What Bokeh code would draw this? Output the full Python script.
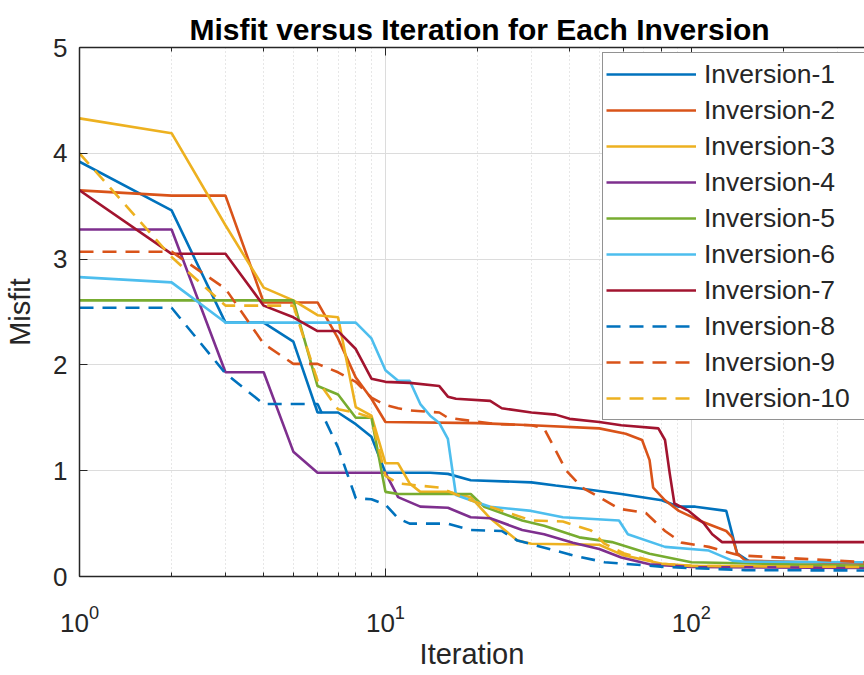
from bokeh.plotting import figure
from bokeh.models import (Range1d, LogAxis, FixedTicker, Legend, LegendItem,
                          CustomJSTickFormatter)
from bokeh.embed import file_html
from bokeh.resources import INLINE

# ---- data: misfit per iteration (vertices of each convergence curve) ----
series_names = ["Inversion-1", "Inversion-2", "Inversion-3", "Inversion-4", "Inversion-5",
                "Inversion-6", "Inversion-7", "Inversion-8", "Inversion-9", "Inversion-10"]

inv1_iter = [1, 2, 3, 4, 5, 6, 7, 8, 9, 10, 14, 16, 19, 30, 36, 44, 59, 80, 91, 103, 130, 136, 141, 155, 200, 368]
inv1_misfit = [3.92, 3.46, 2.40, 2.40, 2.22, 1.55, 1.55, 1.44, 1.32, 0.98, 0.98, 0.97, 0.91, 0.89, 0.86, 0.83,
               0.78, 0.72, 0.66, 0.66, 0.62, 0.40, 0.22, 0.14, 0.11, 0.09]

inv2_iter = [1, 2, 3, 4, 5, 6, 7, 8, 9, 10, 20, 30, 50, 61, 69, 73, 75, 82, 91, 106, 130, 136, 141, 150, 368]
inv2_misfit = [3.65, 3.60, 3.60, 2.59, 2.59, 2.59, 2.25, 1.88, 1.68, 1.46, 1.45, 1.43, 1.40, 1.35, 1.29, 1.10,
               0.84, 0.72, 0.62, 0.53, 0.43, 0.37, 0.22, 0.15, 0.12]

inv3_iter = [1, 2, 3, 4, 5, 6, 7, 8, 9, 10, 11, 12, 13, 16, 19, 22, 27, 30, 50, 60, 80, 100, 368]
inv3_misfit = [4.33, 4.19, 3.32, 2.73, 2.61, 2.47, 2.45, 1.60, 1.52, 1.07, 1.07, 0.88, 0.80, 0.80, 0.75, 0.55,
               0.34, 0.31, 0.30, 0.20, 0.12, 0.10, 0.09]

inv4_iter = [1, 2, 3, 4, 5, 6, 10, 11, 13, 16, 19, 22, 28, 33, 41, 50, 59, 73, 100, 368]
inv4_misfit = [3.28, 3.28, 1.93, 1.93, 1.18, 0.98, 0.98, 0.75, 0.66, 0.65, 0.56, 0.55, 0.44, 0.40, 0.32, 0.26,
               0.18, 0.115, 0.09, 0.08]

inv5_iter = [1, 2, 3, 4, 5, 6, 7, 8, 9, 10, 11, 14, 19, 21, 28, 33, 43, 55, 73, 100, 368]
inv5_misfit = [2.61, 2.61, 2.61, 2.61, 2.61, 1.80, 1.72, 1.50, 1.50, 0.80, 0.78, 0.78, 0.78, 0.66, 0.53, 0.48,
               0.37, 0.325, 0.215, 0.135, 0.10]

inv6_iter = [1, 2, 3, 4, 5, 6, 7, 8, 9, 10, 11, 12, 13, 14, 15, 16, 17, 19, 22, 30, 38, 58, 62, 82, 114, 136,
             150, 368]
inv6_misfit = [2.83, 2.78, 2.40, 2.40, 2.40, 2.40, 2.40, 2.40, 2.25, 1.95, 1.85, 1.85, 1.63, 1.52, 1.45, 1.30,
               0.77, 0.72, 0.66, 0.62, 0.56, 0.53, 0.40, 0.28, 0.245, 0.15, 0.14, 0.135]

inv7_iter = [1, 2, 3, 4, 5, 6, 7, 8, 9, 10, 12, 15, 16, 17, 22, 24, 30, 36, 40, 50, 59, 78, 82, 85, 88, 98, 110,
             117, 126, 368]
inv7_misfit = [3.65, 3.05, 3.05, 2.56, 2.45, 2.32, 2.32, 2.15, 1.87, 1.84, 1.83, 1.80, 1.70, 1.68, 1.66, 1.59,
               1.55, 1.53, 1.49, 1.46, 1.43, 1.40, 1.29, 0.97, 0.69, 0.62, 0.50, 0.40, 0.325, 0.325]

inv8_iter = [1, 2, 3, 4, 5, 6, 7, 8, 9, 10, 11, 12, 16, 19, 24, 27, 41, 52, 82, 150, 368]
inv8_misfit = [2.54, 2.54, 1.92, 1.63, 1.63, 1.63, 1.22, 0.74, 0.73, 0.68, 0.55, 0.50, 0.50, 0.44, 0.43, 0.34,
               0.20, 0.135, 0.09, 0.06, 0.057]

inv9_iter = [1, 2, 3, 4, 5, 6, 7, 8, 9, 10, 11, 12, 15, 16, 23, 30, 33, 39, 44, 50, 58, 71, 82, 93, 114, 143, 368]
inv9_misfit = [3.07, 3.07, 2.72, 2.20, 2.01, 2.01, 1.93, 1.84, 1.69, 1.62, 1.59, 1.57, 1.55, 1.50, 1.44, 1.43,
               1.40, 1.00, 0.84, 0.75, 0.64, 0.60, 0.43, 0.32, 0.28, 0.20, 0.135]

inv10_iter = [1, 2, 3, 4, 5, 6, 7, 8, 9, 10, 11, 15, 19, 30, 38, 47, 52, 60, 80, 100, 368]
inv10_misfit = [4.00, 3.02, 2.56, 2.56, 2.56, 1.85, 1.58, 1.55, 1.50, 0.95, 0.88, 0.84, 0.72, 0.53, 0.52, 0.435,
                0.31, 0.22, 0.12, 0.10, 0.09]

y_ticks = [0, 1, 2, 3, 4, 5]

all_iters = [inv1_iter, inv2_iter, inv3_iter, inv4_iter, inv5_iter,
             inv6_iter, inv7_iter, inv8_iter, inv9_iter, inv10_iter]
all_misfits = [inv1_misfit, inv2_misfit, inv3_misfit, inv4_misfit, inv5_misfit,
               inv6_misfit, inv7_misfit, inv8_misfit, inv9_misfit, inv10_misfit]

# ---- styling ----
FONT = "Liberation Sans"
INK = "#262626"
palette = ["#0072BD", "#D95319", "#EDB120", "#7E2F8E", "#77AC30", "#4DBEEE", "#A2142F"]
colors = [palette[i % 7] for i in range(10)]
dashes = ["solid"] * 7 + ["14 9"] * 3

p = figure(width=864, height=675, x_axis_type="log",
           x_range=Range1d(1, 368), y_range=Range1d(0, 5),
           output_backend="svg", toolbar_location=None,
           min_border_left=79, min_border_right=0, min_border_top=47, min_border_bottom=99)
p.background_fill_color = "white"
p.border_fill_color = "white"
p.outline_line_color = None

p.title.text = "Misfit versus Iteration for Each Inversion"
p.title.text_font = FONT
p.title.text_font_size = "30px"
p.title.text_font_style = "bold"
p.title.text_color = "black"
p.title.align = "left"
p.title.offset = 110
p.title.standoff = 0
p.title.vertical_align = "top"

# bottom axis
xa = p.xaxis[0]
xa.axis_label = "Iteration"
for ax in (p.xaxis[0], p.yaxis[0]):
    ax.axis_label_text_font = FONT
    ax.axis_label_text_font_size = "29px"
    ax.axis_label_text_font_style = "normal"
    ax.axis_label_text_color = INK
    ax.major_label_text_font = FONT
    ax.major_label_text_font_size = "26px"
    ax.major_label_text_color = INK
    ax.axis_line_color = INK
    ax.axis_line_width = 1.5
    ax.major_tick_line_color = INK
    ax.minor_tick_line_color = INK
    ax.major_tick_in = 8
    ax.major_tick_out = 0
    ax.minor_tick_in = 4
    ax.minor_tick_out = 0
xa.major_label_standoff = 28
xa.axis_label_standoff = 3

ya = p.yaxis[0]
ya.axis_label = "Misfit"
ya.ticker = FixedTicker(ticks=y_ticks)
ya.major_label_standoff = 12
ya.axis_label_standoff = 14

# top border with inward ticks
top = LogAxis(formatter=CustomJSTickFormatter(code="return ''"),
              axis_line_color=INK, axis_line_width=1.5,
              major_tick_line_color=INK, minor_tick_line_color=INK,
              major_tick_in=8, major_tick_out=0, minor_tick_in=4, minor_tick_out=0,
              major_label_standoff=0, major_label_text_font_size="1px")
p.add_layout(top, "above")

# grids
p.xgrid.grid_line_color = "#DCDCDC"
p.ygrid.grid_line_color = "#DCDCDC"
p.ygrid.ticker = FixedTicker(ticks=y_ticks)
p.xgrid.minor_grid_line_color = "#CFCFCF"
p.xgrid.minor_grid_line_dash = "1 3"

items = []
for name, xs, ys, c, d in zip(series_names, all_iters, all_misfits, colors, dashes):
    r = p.line(xs, ys, line_color=c, line_width=2.6, line_dash=d)
    items.append(LegendItem(label=name, renderers=[r]))

legend = Legend(items=items, location=(523, 156),
                label_text_font=FONT, label_text_font_size="26.5px", label_text_color=INK,
                glyph_width=90, glyph_height=36, label_height=36, label_width=175,
                label_standoff=8, spacing=0, padding=3, margin=0,
                border_line_color=INK, border_line_width=1.5,
                background_fill_color="white", background_fill_alpha=1.0)
p.add_layout(legend)

open("out.html", "w").write(file_html(p, INLINE))
